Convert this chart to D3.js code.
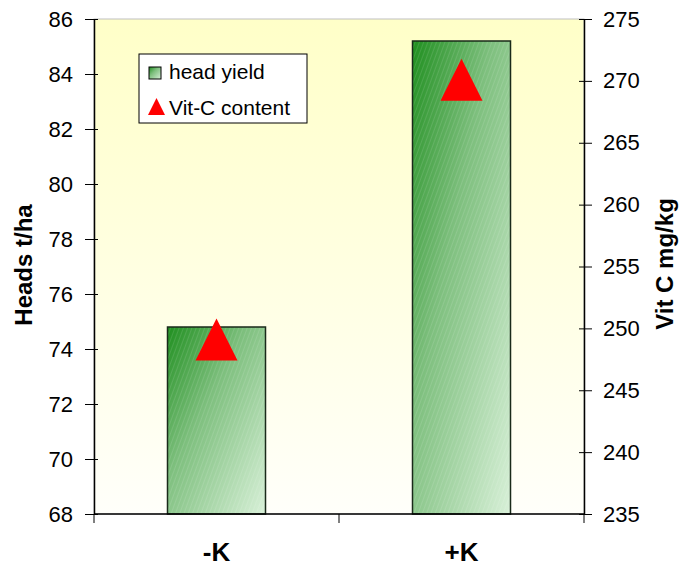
<!DOCTYPE html>
<html>
<head>
<meta charset="utf-8">
<script src="https://cdn.jsdelivr.net/npm/d3@7"></script>
<style>
  body { margin: 0; background: #fff; }
  text { font-family: "Liberation Sans", Arial, sans-serif; }
</style>
</head>
<body>
<div id="chart"></div>
<script>
// chart values
var categories = ["-K", "+K"];
var headYield = [74.8, 85.2];
var vitC = [249.1, 270.1];
var leftTicks = [68, 70, 72, 74, 76, 78, 80, 82, 84, 86];
var rightTicks = [235, 240, 245, 250, 255, 260, 265, 270, 275];

var w = 681, h = 567;
var plotL = 94, plotR = 584, plotT = 19, plotB = 514;

var svg = d3.select("#chart").append("svg")
    .attr("width", w)
    .attr("height", h);

var defs = svg.append("defs");

// plot background: pale yellow fading to white
var bg = defs.append("linearGradient").attr("id", "bg")
    .attr("x1", 0).attr("y1", 0).attr("x2", 0).attr("y2", 1);
bg.append("stop").attr("offset", "0%").attr("stop-color", "#ffffc8");
bg.append("stop").attr("offset", "100%").attr("stop-color", "#fffffa");

// bar fill: dark green top-left to pale green bottom-right
var bar = defs.append("linearGradient").attr("id", "barFill")
    .attr("x1", 0).attr("y1", 0).attr("x2", 1).attr("y2", 1);
bar.append("stop").attr("offset", "0%").attr("stop-color", "#1f8f1f");
bar.append("stop").attr("offset", "40%").attr("stop-color", "#7dbf7d");
bar.append("stop").attr("offset", "100%").attr("stop-color", "#d8f0d8");

// fine diagonal hatch on the bars
var hatch = defs.append("pattern").attr("id", "hatch")
    .attr("patternUnits", "userSpaceOnUse")
    .attr("width", 4).attr("height", 4)
    .attr("patternTransform", "rotate(20)");
hatch.append("line")
    .attr("x1", 0).attr("y1", 0).attr("x2", 0).attr("y2", 4)
    .attr("stroke", "#ffffff").attr("stroke-width", 1).attr("stroke-opacity", 0.22);

var x = d3.scaleBand()
    .domain(categories)
    .range([plotL, plotR])
    .paddingInner(0.6)
    .paddingOuter(0.3);

var yL = d3.scaleLinear().domain([68, 86]).range([plotB, plotT]);
var yR = d3.scaleLinear().domain([235, 275]).range([plotB, plotT]);

// isosceles triangle, as tall as it is wide, centred on its box
var triangle = {
    draw: function(ctx, size) {
        var r = Math.sqrt(size) / 2;
        ctx.moveTo(0, -r);
        ctx.lineTo(r, r);
        ctx.lineTo(-r, r);
        ctx.closePath();
    }
};

svg.append("rect")
    .attr("x", plotL).attr("y", plotT)
    .attr("width", plotR - plotL).attr("height", plotB - plotT)
    .attr("fill", "url(#bg)")
    .attr("stroke", "#c0c0c0");

// bars
var bars = svg.append("g");
bars.selectAll("rect.b")
    .data(headYield)
    .enter().append("rect")
    .attr("class", "b")
    .attr("x", (d, i) => x(categories[i]))
    .attr("y", d => yL(d))
    .attr("width", x.bandwidth())
    .attr("height", d => yL(68) - yL(d))
    .attr("fill", "url(#barFill)");
bars.selectAll("rect.h")
    .data(headYield)
    .enter().append("rect")
    .attr("class", "h")
    .attr("x", (d, i) => x(categories[i]))
    .attr("y", d => yL(d))
    .attr("width", x.bandwidth())
    .attr("height", d => yL(68) - yL(d))
    .attr("fill", "url(#hatch)")
    .attr("stroke", "#1a2a1a")
    .attr("stroke-width", 1.5);

// triangles for vitamin C
svg.append("g").selectAll("path")
    .data(vitC)
    .enter().append("path")
    .attr("d", d3.symbol().type(triangle).size(42 * 42))
    .attr("transform", (d, i) => `translate(${x(categories[i]) + x.bandwidth() / 2},${yR(d)})`)
    .attr("fill", "#ff0000");

// axes
var axL = svg.append("g")
    .attr("transform", `translate(${plotL},0)`)
    .call(d3.axisLeft(yL).tickValues(leftTicks).tickSizeInner(9).tickSizeOuter(0).tickPadding(12));
axL.selectAll(".tick line").attr("x1", -9).attr("x2", 4);

var axR = svg.append("g")
    .attr("transform", `translate(${plotR},0)`)
    .call(d3.axisRight(yR).tickValues(rightTicks).tickSizeInner(8).tickSizeOuter(0).tickPadding(11));
axR.selectAll(".tick line").attr("x1", -5).attr("x2", 8);

var xTicks = [plotL, (plotL + plotR) / 2, plotR];
svg.append("g").selectAll("line")
    .data(xTicks)
    .enter().append("line")
    .attr("x1", d => d).attr("x2", d => d)
    .attr("y1", plotB).attr("y2", plotB + 9)
    .attr("stroke", "#000");
svg.append("line")
    .attr("x1", plotL).attr("x2", plotR)
    .attr("y1", plotB).attr("y2", plotB)
    .attr("stroke", "#000").attr("stroke-width", 1.5);

svg.selectAll(".domain").attr("stroke", "#000").attr("stroke-width", 1.5);
svg.selectAll(".tick text").style("font-size", "22px").attr("fill", "#000");

svg.append("g").selectAll("text")
    .data(categories)
    .enter().append("text")
    .attr("x", d => x(d) + x.bandwidth() / 2)
    .attr("y", 561)
    .attr("text-anchor", "middle")
    .style("font-size", "26px")
    .style("font-weight", "bold")
    .text(d => d);

svg.append("text")
    .attr("transform", "translate(32,265) rotate(-90)")
    .attr("text-anchor", "middle")
    .style("font-size", "24px")
    .style("font-weight", "bold")
    .text("Heads t/ha");

svg.append("text")
    .attr("transform", "translate(673,264) rotate(-90)")
    .attr("text-anchor", "middle")
    .style("font-size", "24px")
    .style("font-weight", "bold")
    .text("Vit C mg/kg");

// legend
var lg = svg.append("g").attr("transform", "translate(139,54)");
lg.append("rect")
    .attr("width", 168).attr("height", 69)
    .attr("fill", "#fff").attr("stroke", "#000");
lg.append("rect")
    .attr("x", 10).attr("y", 13).attr("width", 12).attr("height", 12)
    .attr("fill", "url(#barFill)").attr("stroke", "#000");
lg.append("path")
    .attr("d", d3.symbol().type(triangle).size(17 * 17))
    .attr("transform", "translate(17.5,52.5)")
    .attr("fill", "#ff0000");
lg.append("text").attr("x", 30).attr("y", 25).style("font-size", "21px").text("head yield");
lg.append("text").attr("x", 30).attr("y", 61).style("font-size", "21px").text("Vit-C content");
</script>
</body>
</html>
